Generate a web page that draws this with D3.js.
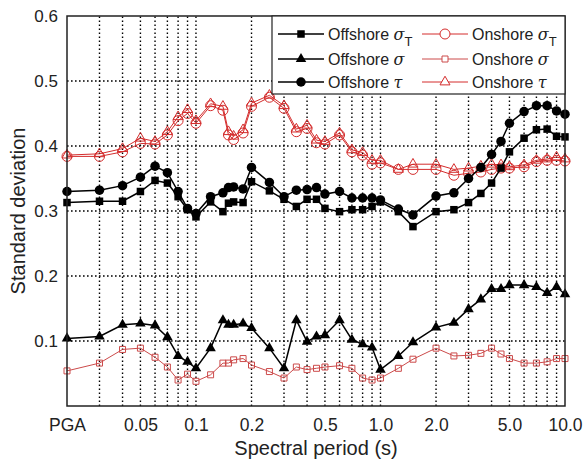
<!DOCTYPE html>
<html>
<head>
<meta charset="utf-8">
<script src="https://cdn.jsdelivr.net/npm/d3@7/dist/d3.min.js"></script>
<style>
  html, body { margin: 0; padding: 0; background: #fff; }
  svg { display: block; font-family: "Liberation Sans", Arial, sans-serif; }
</style>
</head>
<body>
<svg id="chart" width="583" height="463"></svg>
<script>
// Spectral periods (s); PGA is plotted at the left edge of the period axis
const PGA_PERIOD = 0.02;
const periods = [PGA_PERIOD, 0.03, 0.04, 0.05, 0.06, 0.07, 0.08, 0.09, 0.1, 0.12,
  0.14, 0.15, 0.16, 0.18, 0.2, 0.25, 0.3, 0.35, 0.4, 0.45,
  0.5, 0.6, 0.7, 0.8, 0.9, 1.0, 1.25, 1.5, 2.0, 2.5,
  3.0, 3.5, 4.0, 4.5, 5.0, 6.0, 7.0, 8.0, 9.0, 10.0];

const offshoreSigmaT = [0.313, 0.315, 0.315, 0.330, 0.347, 0.343, 0.322, 0.302, 0.291, 0.314,
  0.299, 0.312, 0.314, 0.313, 0.345, 0.331, 0.318, 0.307, 0.318, 0.318,
  0.304, 0.299, 0.302, 0.302, 0.307, 0.314, 0.299, 0.276, 0.299, 0.302,
  0.313, 0.327, 0.343, 0.366, 0.391, 0.412, 0.425, 0.426, 0.415, 0.414];

const offshoreSigma = [0.104, 0.107, 0.125, 0.127, 0.124, 0.106, 0.077, 0.068, 0.058, 0.089,
  0.132, 0.125, 0.125, 0.127, 0.120, 0.089, 0.058, 0.132, 0.099, 0.107,
  0.109, 0.132, 0.102, 0.095, 0.090, 0.056, 0.077, 0.098, 0.121, 0.128,
  0.149, 0.164, 0.180, 0.180, 0.186, 0.186, 0.183, 0.174, 0.183, 0.172];

const offshoreTau = [0.330, 0.332, 0.339, 0.352, 0.369, 0.359, 0.330, 0.304, 0.296, 0.322,
  0.328, 0.336, 0.337, 0.334, 0.367, 0.344, 0.322, 0.332, 0.333, 0.336,
  0.326, 0.330, 0.320, 0.320, 0.320, 0.317, 0.303, 0.294, 0.323, 0.328,
  0.350, 0.367, 0.387, 0.407, 0.435, 0.453, 0.462, 0.462, 0.454, 0.449];

const onshoreSigmaT = [0.384, 0.384, 0.391, 0.404, 0.403, 0.417, 0.439, 0.450, 0.435, 0.462,
  0.455, 0.417, 0.410, 0.420, 0.461, 0.475, 0.458, 0.422, 0.427, 0.405,
  0.403, 0.417, 0.391, 0.386, 0.372, 0.374, 0.364, 0.364, 0.364, 0.355,
  0.358, 0.360, 0.364, 0.366, 0.366, 0.368, 0.376, 0.378, 0.378, 0.377];

const onshoreSigma = [0.054, 0.066, 0.087, 0.089, 0.075, 0.060, 0.040, 0.049, 0.038, 0.048,
  0.066, 0.066, 0.071, 0.073, 0.063, 0.053, 0.043, 0.060, 0.056, 0.058,
  0.060, 0.062, 0.058, 0.043, 0.040, 0.043, 0.058, 0.072, 0.089, 0.077,
  0.078, 0.081, 0.089, 0.080, 0.073, 0.066, 0.066, 0.068, 0.073, 0.073];

const onshoreTau = [0.386, 0.388, 0.396, 0.412, 0.407, 0.422, 0.445, 0.456, 0.439, 0.465,
  0.461, 0.422, 0.415, 0.425, 0.466, 0.478, 0.462, 0.426, 0.432, 0.409,
  0.407, 0.420, 0.394, 0.390, 0.378, 0.378, 0.364, 0.372, 0.372, 0.364,
  0.366, 0.369, 0.372, 0.371, 0.368, 0.371, 0.378, 0.380, 0.383, 0.380];

// Axis ticks
const xTickValues = [PGA_PERIOD, 0.05, 0.1, 0.2, 0.5, 1.0, 2.0, 5.0, 10.0];
const xTickLabels = ["PGA", "0.05", "0.1", "0.2", "0.5", "1.0", "2.0", "5.0", "10.0"];
const yTickValues = [0.1, 0.2, 0.3, 0.4, 0.5, 0.6];
const xGridValues = [0.03, 0.04, 0.05, 0.06, 0.07, 0.08, 0.09, 0.1,
  0.2, 0.3, 0.4, 0.5, 0.6, 0.7, 0.8, 0.9, 1, 2, 3, 4, 5, 6, 7, 8, 9];
const yGridValues = [0.1, 0.2, 0.3, 0.4, 0.5];

const RED = "#d42c2c";
const series = [
  { name: "Onshore σ", sub: "", values: onshoreSigma, color: "#cc4a4a", sym: "square", filled: false, size: 6, width: 1 },
  { name: "Onshore τ", sub: "", values: onshoreTau, color: RED, sym: "triangle", filled: false, size: 10, width: 1 },
  { name: "Onshore σ", sub: "T", values: onshoreSigmaT, color: RED, sym: "circle", filled: false, size: 10, width: 1 },
  { name: "Offshore σ", sub: "", values: offshoreSigma, color: "#000", sym: "triangle", filled: true, size: 10.5, width: 1.5 },
  { name: "Offshore σ", sub: "T", values: offshoreSigmaT, color: "#000", sym: "square", filled: true, size: 7.5, width: 1.5 },
  { name: "Offshore τ", sub: "", values: offshoreTau, color: "#000", sym: "circle", filled: true, size: 9.5, width: 1.5 }
];

const margin = { left: 67, right: 18, top: 16, bottom: 57 };
const W = 583, H = 463;
const svg = d3.select("#chart");

const x = d3.scaleLog().domain([PGA_PERIOD, 10]).range([margin.left, W - margin.right]);
const y = d3.scaleLinear().domain([0, 0.6]).range([H - margin.bottom, margin.top]);

// Dotted grid
const grid = svg.append("g").attr("stroke", "#000").attr("stroke-width", 1.4)
  .attr("stroke-dasharray", "1.6,2.4");
grid.selectAll("line.v").data(xGridValues).join("line")
  .attr("x1", d => x(d)).attr("x2", d => x(d))
  .attr("y1", y(0)).attr("y2", y(0.6));
grid.selectAll("line.h").data(yGridValues).join("line")
  .attr("x1", x(PGA_PERIOD)).attr("x2", x(10))
  .attr("y1", d => y(d)).attr("y2", d => y(d));

// Axes (labels only, frame drawn separately)
const xAxis = d3.axisBottom(x).tickValues(xTickValues).tickSize(0).tickPadding(13)
  .tickFormat((d, i) => xTickLabels[i]);
const gx = svg.append("g").attr("transform", `translate(0,${y(0)})`).call(xAxis);
gx.select(".domain").remove();
gx.selectAll("text").attr("font-size", 17.5).attr("fill", "#222")
  .attr("font-family", "Liberation Sans, Arial, sans-serif");

const yAxis = d3.axisLeft(y).tickValues(yTickValues).tickSize(0).tickPadding(9)
  .tickFormat(d3.format(".1f"));
const gy = svg.append("g").attr("transform", `translate(${x(PGA_PERIOD)},0)`).call(yAxis);
gy.select(".domain").remove();
gy.selectAll("text").attr("font-size", 17).attr("fill", "#222")
  .attr("font-family", "Liberation Sans, Arial, sans-serif");

// Axis titles
svg.append("text").attr("x", (x(PGA_PERIOD) + x(10)) / 2).attr("y", 455)
  .attr("text-anchor", "middle").attr("font-size", 20).attr("fill", "#222")
  .text("Spectral period (s)");
svg.append("text")
  .attr("transform", `translate(25,${(y(0) + y(0.6)) / 2}) rotate(-90)`)
  .attr("text-anchor", "middle").attr("font-size", 20).attr("fill", "#222")
  .text("Standard deviation");

// Marker drawing helper
function symbolPath(sym, size) {
  if (sym === "circle") return d3.symbol(d3.symbolCircle, Math.PI * (size / 2) ** 2)();
  if (sym === "square") return d3.symbol(d3.symbolSquare, size * size)();
  // equilateral triangle of side "size"
  return d3.symbol(d3.symbolTriangle, Math.sqrt(3) / 4 * size * size)();
}

const line = d3.line().x(d => x(d[0])).y(d => y(d[1]));
const plot = svg.append("g");
series.forEach(s => {
  const pts = periods.map((p, i) => [p, s.values[i]]);
  const g = plot.append("g");
  g.append("path").datum(pts).attr("d", line)
    .attr("fill", "none").attr("stroke", s.color).attr("stroke-width", s.width);
  g.selectAll("path.m").data(pts).join("path").attr("class", "m")
    .attr("transform", d => `translate(${x(d[0])},${y(d[1])})`)
    .attr("d", symbolPath(s.sym, s.size))
    .attr("fill", s.filled ? s.color : "none")
    .attr("stroke", s.color).attr("stroke-width", s.filled ? 0 : 1);
});

// Frame
svg.append("rect").attr("x", x(PGA_PERIOD)).attr("y", y(0.6))
  .attr("width", x(10) - x(PGA_PERIOD)).attr("height", y(0) - y(0.6))
  .attr("fill", "none").attr("stroke", "#222").attr("stroke-width", 1.5);

// Legend
const legendEntries = [
  [series[4], series[2]],
  [series[3], series[0]],
  [series[5], series[1]]
];
const lg = svg.append("g");
const lgLeft = 272, lgTop = y(0.6), lgRight = x(10), lgBottom = 94;
lg.append("rect").attr("x", lgLeft).attr("y", lgTop)
  .attr("width", lgRight - lgLeft).attr("height", lgBottom - lgTop)
  .attr("fill", "#fff").attr("stroke", "#222").attr("stroke-width", 1.2);
const rowY = [34, 59, 82];
const colX = [278, 422];
legendEntries.forEach((row, r) => {
  row.forEach((s, c) => {
    const x0 = colX[c], yy = rowY[r];
    lg.append("line").attr("x1", x0).attr("x2", x0 + 46).attr("y1", yy).attr("y2", yy)
      .attr("stroke", s.color).attr("stroke-width", s.width);
    lg.append("path").attr("transform", `translate(${x0 + 23},${yy})`)
      .attr("d", symbolPath(s.sym, s.size))
      .attr("fill", s.filled ? s.color : "#fff")
      .attr("stroke", s.color).attr("stroke-width", s.filled ? 0 : 1);
    const t = lg.append("text").attr("x", x0 + 50).attr("y", yy + 5.5)
      .attr("font-size", 16).attr("fill", "#222");
    const parts = s.name.split(" ");
    t.append("tspan").text(parts[0] + " ");
    t.append("tspan").attr("font-family", "DejaVu Serif, serif").attr("font-style", "italic")
      .text(parts[1]);
    if (s.sub) {
      t.append("tspan").attr("dy", 6).attr("font-size", 13).text(s.sub);
    }
  });
});
</script>
</body>
</html>
